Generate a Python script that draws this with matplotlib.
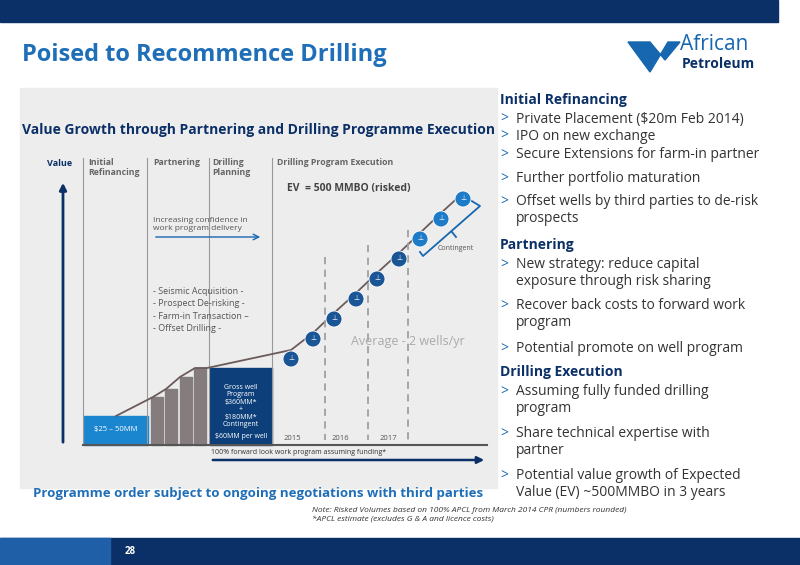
import matplotlib
matplotlib.use("Agg")
import matplotlib.pyplot as plt
from matplotlib.patches import Rectangle, Circle

plt.rcParams['font.family'] = ['Open Sans', 'DejaVu Sans']

# data (pixel-space of value chart)
bar_x = [157, 171, 186, 200]
bar_top = [397, 389, 377, 368]
line_x = [116, 153, 166, 180, 195, 207, 291]
line_y = [416, 397, 389, 377, 368, 368, 350]
well_x = [291, 313, 334, 356, 377, 399, 420, 441, 463]
well_y = [359, 339, 319, 299, 279, 259, 239, 219, 199]
years = ['2015', '2016', '2017']
year_x = [292, 340, 388]
phases = ['Initial\nRefinancing', 'Partnering', 'Drilling\nPlanning', 'Drilling Program Execution']
phase_x = [88, 153, 212, 277]
phase_lines = [83, 147, 209, 272]

NAVY = '#0b2f67'; BLUE = '#1f6fb8'; MID = '#1666b0'; GREY = '#857d7d'

fig = plt.figure(figsize=(8, 5.65), dpi=100)
ax = fig.add_axes([0, 0, 1, 1])
ax.set_xlim(0, 800); ax.set_ylim(565, 0); ax.axis('off')

ax.add_patch(Rectangle((0, 0), 778, 22, color=NAVY))
ax.add_patch(Rectangle((0, 538), 800, 27, color=NAVY))
ax.add_patch(Rectangle((0, 538), 110, 27, color='#1e5fa8'))
ax.text(130, 552, '28', color='white', fontsize=7, fontweight='bold', ha='center', va='center')
ax.text(22, 55, 'Poised to Recommence Drilling', color=BLUE, fontsize=17, fontweight='bold', va='center')
# logo
ax.text(680, 44, 'African', color=MID, fontsize=15, va='center')
ax.text(682, 64, 'Petroleum', color=NAVY, fontsize=10, fontweight='bold', va='center')
ax.fill([628, 650, 665, 680, 668, 650], [42, 42, 60, 42, 42, 72], color=MID)

# chart background
ax.add_patch(Rectangle((20, 88), 477, 400, color='#ededed'))
ax.text(258, 130, 'Value Growth through Partnering and Drilling Programme Execution', color=NAVY,
        fontsize=10, fontweight='bold', ha='center', va='center')
ax.text(258, 494, 'Programme order subject to ongoing negotiations with third parties', color=BLUE,
        fontsize=9.5, fontweight='bold', ha='center', va='center')

ax.text(60, 164, 'Value', color=NAVY, fontsize=6.5, fontweight='bold', va='center', ha='center')
ax.annotate('', xy=(63, 180), xytext=(63, 445), arrowprops=dict(arrowstyle='-|>', color=NAVY, lw=2))
for px in phase_lines:
    ax.plot([px, px], [158, 445], color='#999999', lw=0.8)
for t, px in zip(phases, phase_x):
    ax.text(px, 158, t, color='#666666', fontsize=6.3, fontweight='bold', va='top', ha='left')
ax.plot([83, 487], [445, 445], color='#555555', lw=1.5)
ax.add_patch(Rectangle((84, 416), 64, 29, color='#1a86d0'))
ax.text(116, 430, '$25 – 50MM', color='white', fontsize=5.5, ha='center', va='center')
for bx, bt in zip(bar_x, bar_top):
    ax.add_patch(Rectangle((bx - 6, bt), 12, 445 - bt, color=GREY))
ax.add_patch(Rectangle((210, 368), 62, 77, color='#0d3f7a'))
ax.text(241, 384, 'Gross well\nProgram\n$360MM*\n+\n$180MM*\nContingent', color='white', fontsize=5,
        ha='center', va='top', linespacing=1.1)
ax.text(241, 436, '$60MM per well', color='white', fontsize=5, ha='center', va='center')
ax.plot(line_x + well_x[1:], line_y + [y - 6 for y in well_y[1:]], color='#6b5b5b', lw=1.3)
for wx, wy in zip(well_x, well_y):
    ax.add_patch(Circle((wx, wy), 8, color='#1a5596' if wy > 245 else '#1e7bc8', ec='white', lw=0.6, zorder=5))
    ax.text(wx, wy, '⊥', color='white', fontsize=5, ha='center', va='center', zorder=6)
for dx, top in zip([325, 368, 408], [257, 245, 230]):
    ax.plot([dx, dx], [top, 440], color='#a0a0a0', lw=1.3, ls=(0, (4, 3)))
for y, yx in zip(years, year_x):
    ax.text(yx, 439, y, color='#555555', fontsize=5.5, ha='center', va='center')
ax.text(438, 248, 'Contingent', color='#555555', fontsize=5, ha='left', va='center')
ax.plot([470, 480, 423, 420], [200, 206, 256, 252], color=MID, lw=1.3)
ax.plot([452, 456], [232, 237], color=MID, lw=1.3)
ax.text(349, 188, 'EV  = 500 MMBO (risked)', color='#444444', fontsize=7.5, fontweight='bold', ha='center', va='center')
ax.text(408, 342, 'Average - 2 wells/yr', color='#aaaaaa', fontsize=9, ha='center', va='center')
ax.text(153, 225, 'Increasing confidence in\nwork program delivery', color='#555555', fontsize=6, va='center')
ax.annotate('', xy=(263, 237), xytext=(153, 237), arrowprops=dict(arrowstyle='->', color=MID, lw=1))
ax.text(153, 310, '- Seismic Acquisition -\n- Prospect De-risking -\n- Farm-in Transaction –\n- Offset Drilling -',
        color='#555555', fontsize=6.5, va='center', linespacing=1.5)
ax.text(211, 453, '100% forward look work program assuming funding*', color='#333333', fontsize=5, va='center')
ax.annotate('', xy=(487, 460), xytext=(210, 460), arrowprops=dict(arrowstyle='-|>', color=NAVY, lw=1.8))

# right text
items = [
    (100, 'h', 'Initial Refinancing'),
    (119, 'b', 'Private Placement ($20m Feb 2014)'),
    (136, 'b', 'IPO on new exchange'),
    (155, 'b', 'Secure Extensions for farm-in partner'),
    (179, 'b', 'Further portfolio maturation'),
    (202, 'b', 'Offset wells by third parties to de-risk\nprospects'),
    (245, 'h', 'Partnering'),
    (265, 'b', 'New strategy: reduce capital\nexposure through risk sharing'),
    (306, 'b', 'Recover back costs to forward work\nprogram'),
    (349, 'b', 'Potential promote on well program'),
    (372, 'h', 'Drilling Execution'),
    (392, 'b', 'Assuming fully funded drilling\nprogram'),
    (434, 'b', 'Share technical expertise with\npartner'),
    (476, 'b', 'Potential value growth of Expected\nValue (EV) ~500MMBO in 3 years'),
]
for y, kind, t in items:
    if kind == 'h':
        ax.text(500, y, t, color=NAVY, fontsize=10, fontweight='bold', va='center')
    else:
        ax.text(500, y, '>', color=MID, fontsize=10, va='center')
        ax.text(516, y - 8 if '\n' in t else y, t, color='#333333', fontsize=10,
                va='top' if '\n' in t else 'center', linespacing=1.2)
ax.text(312, 515, 'Note: Risked Volumes based on 100% APCL from March 2014 CPR (numbers rounded)\n*APCL estimate (excludes G & A and licence costs)',
        color='#333333', fontsize=6, style='italic', va='center', linespacing=1.4)

fig.savefig('out.png', dpi=100)
